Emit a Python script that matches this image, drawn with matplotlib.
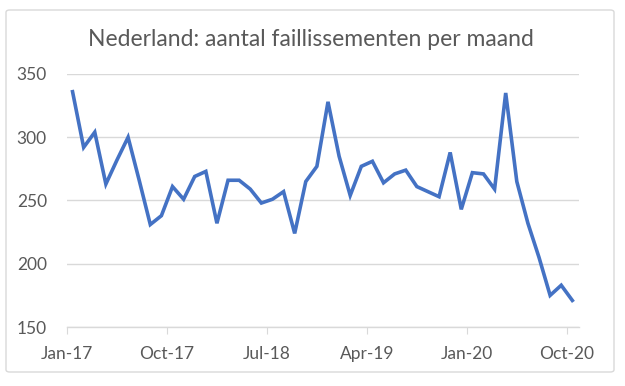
import numpy as np
import matplotlib
matplotlib.use("Agg")
import matplotlib.pyplot as plt
from matplotlib.patches import FancyBboxPatch

# monthly bankruptcies, Jan-17 .. Oct-20
faillissementen = [336, 292, 304, 263, 282, 300, 266, 231, 238, 261,
                   251, 269, 273, 232, 266, 266, 259, 248, 251, 257,
                   224, 265, 277, 328, 285, 254, 277, 281, 264, 271,
                   274, 261, 257, 253, 288, 243, 272, 271, 259, 335,
                   265, 232, 205, 175, 183, 171]
tick_maanden = [0, 9, 18, 27, 36, 45]
tick_labels = ["Jan-17", "Oct-17", "Jul-18", "Apr-19", "Jan-20", "Oct-20"]
y_ticks = [150, 200, 250, 300, 350]

tekst = "#595959"
grid = "#D9D9D9"
blauw = "#4472C4"

plt.rcParams['font.family'] = ['Lato', 'DejaVu Sans']

fig = plt.figure(figsize=(6.25, 3.86), dpi=100)
ax = fig.add_axes([67/625, 1 - 327/386, (579 - 67)/625, (327 - 74)/386])

# chart border
fig.patches.append(FancyBboxPatch((6/625, 1 - 372/386), 608/625, 362/386,
                                  boxstyle="round,pad=0,rounding_size=0.006",
                                  transform=fig.transFigure, fill=False,
                                  edgecolor=grid, linewidth=1.0))

x = np.arange(len(faillissementen))
ax.plot(x, faillissementen, color=blauw, linewidth=2.6, solid_joinstyle='miter')

ax.set_xlim(-0.5, 45.6)
ax.set_ylim(150, 350)
ax.set_yticks(y_ticks)
ax.set_xticks([m - 0.5 for m in tick_maanden])
ax.set_xticklabels(tick_labels)
ax.grid(axis='y', color=grid, linewidth=1.0)
ax.set_axisbelow(True)

for s in ['top', 'right', 'left']:
    ax.spines[s].set_visible(False)
ax.spines['bottom'].set_color(grid)
ax.spines['bottom'].set_linewidth(1.0)

ax.tick_params(axis='y', length=0, pad=14.5, labelsize=12.5, labelcolor=tekst)
ax.tick_params(axis='x', length=5, color=grid, pad=9, labelsize=12.5, labelcolor=tekst)

fig.text(311/625, 1 - 40/386, "Nederland: aantal faillissementen per maand",
         ha='center', va='center', fontsize=16.5, color=tekst)

fig.savefig("out.png", dpi=100)
